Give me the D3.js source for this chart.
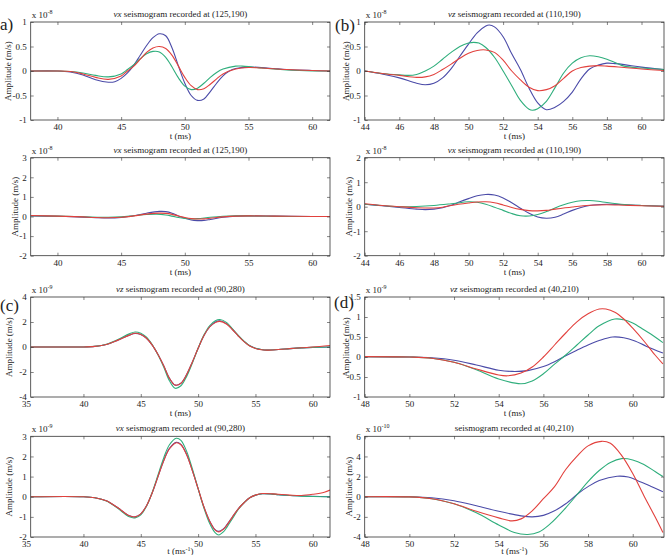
<!DOCTYPE html>
<html>
<head>
<meta charset="utf-8">
<script src="https://cdn.jsdelivr.net/npm/d3@7"></script>
<style>
  body { margin: 0; background: #fff; }
  svg text { font-family: "Liberation Serif", "DejaVu Serif", serif; fill: #222; }
</style>
</head>
<body>
<div id="chart"></div>
<script>
// ---- data: [t (ms), amplitude] ----

// (a) vx at (125,190), x 1e-8
const aBlue = [[37.9,0],[40,0],[41,-0.02],[42,-0.08],[43,-0.18],[44,-0.23],[44.5,-0.22],[45,-0.15],[45.5,-0.04],[46,0.12],[46.5,0.32],[47,0.52],[47.5,0.68],[48,0.76],[48.5,0.72],[49,0.47],[49.5,0.1],[50,-0.25],[50.5,-0.5],[51,-0.6],[51.5,-0.57],[52,-0.42],[52.5,-0.25],[53,-0.1],[53.5,0.0],[54,0.05],[55,0.08],[56,0.07],[57,0.05],[58,0.03],[60,0.01],[61.4,0]];
const aGreen = [[37.9,0],[40,0],[41,-0.01],[42,-0.04],[43,-0.09],[44,-0.12],[45,-0.06],[45.5,0.03],[46,0.13],[46.5,0.25],[47,0.35],[47.5,0.4],[48,0.39],[48.5,0.28],[49,0.08],[49.5,-0.14],[50,-0.31],[50.5,-0.38],[51,-0.35],[51.5,-0.25],[52,-0.13],[52.5,-0.03],[53,0.04],[54,0.1],[54.5,0.1],[55,0.09],[56,0.06],[58,0.02],[60,0],[61.4,0]];
const aRed = [[37.9,0],[40,0],[41,-0.01],[42,-0.06],[43,-0.13],[44,-0.17],[45,-0.1],[45.5,0.0],[46,0.1],[46.5,0.24],[47,0.38],[47.5,0.47],[48,0.5],[48.5,0.46],[49,0.32],[49.5,0.1],[50,-0.13],[50.5,-0.3],[51,-0.38],[51.5,-0.36],[52,-0.27],[52.5,-0.16],[53,-0.06],[54,0.04],[55,0.07],[56,0.06],[58,0.03],[60,0.01],[61.4,0]];

// (b) vz at (110,190), x 1e-8
const bBlue = [[44,0],[45,-0.06],[46,-0.14],[47,-0.25],[47.5,-0.28],[48,-0.25],[48.5,-0.14],[49,0.05],[49.5,0.3],[50,0.55],[50.5,0.78],[51,0.92],[51.2,0.94],[51.5,0.9],[52,0.7],[52.5,0.35],[53,0.03],[53.5,-0.35],[54,-0.65],[54.5,-0.79],[55,-0.74],[55.5,-0.62],[56,-0.43],[56.5,-0.16],[57,0.04],[57.5,0.12],[58,0.16],[58.5,0.15],[59,0.13],[60,0.08],[61.3,0.03]];
const bGreen = [[44,0],[45,-0.05],[46,-0.08],[46.5,-0.09],[47,-0.07],[47.5,0.0],[48,0.1],[48.5,0.24],[49,0.38],[49.5,0.5],[50,0.57],[50.3,0.585],[50.6,0.57],[51,0.48],[51.5,0.28],[52,0.0],[52.5,-0.3],[53,-0.6],[53.5,-0.78],[53.7,-0.8],[54,-0.77],[54.5,-0.62],[55,-0.34],[55.5,-0.04],[56,0.16],[56.5,0.27],[57,0.31],[57.5,0.29],[58,0.24],[58.5,0.17],[59,0.1],[60,0.06],[61.3,0.03]];
const bRed = [[44,0],[45,-0.05],[46,-0.09],[47,-0.13],[47.5,-0.12],[48,-0.07],[48.5,0.03],[49,0.14],[49.5,0.26],[50,0.36],[50.5,0.42],[51,0.43],[51.5,0.38],[52,0.22],[52.5,0.0],[53,-0.18],[53.5,-0.33],[54,-0.4],[54.5,-0.38],[55,-0.3],[55.5,-0.15],[56,0.0],[56.5,0.07],[57,0.1],[57.5,0.11],[58,0.1],[59,0.07],[60,0.04],[61.3,0.01]];

// vx at (125,190), second row, x 1e-8
const a2Blue = [[37.9,0.03],[40,0.01],[42,-0.03],[43,-0.06],[44,-0.08],[45,-0.05],[46,0.04],[47,0.17],[48,0.26],[48.5,0.25],[49,0.17],[49.5,0.03],[50,-0.09],[50.5,-0.18],[51,-0.21],[51.5,-0.2],[52,-0.15],[53,-0.04],[54,0.02],[55,0.03],[57,0.02],[60,0],[61.4,0]];
const a2Green = [[37.9,0.04],[40,0.02],[42,-0.01],[44,-0.04],[45,-0.02],[46,0.04],[47,0.1],[47.8,0.12],[48.5,0.08],[49,0.02],[49.5,-0.05],[50,-0.1],[50.5,-0.12],[51,-0.11],[52,-0.04],[53,0.01],[54,0.03],[55,0.03],[57,0.01],[60,0],[61.4,0]];
const a2Red = [[37.9,0.05],[40,0.02],[42,-0.02],[43,-0.05],[44,-0.06],[45,-0.04],[46,0.03],[47,0.12],[48,0.17],[48.5,0.16],[49,0.11],[49.5,0.03],[50,-0.05],[50.5,-0.11],[51,-0.13],[51.5,-0.12],[52,-0.09],[53,-0.02],[54,0.02],[55,0.03],[57,0.02],[60,0],[61.4,0]];

// vx at (110,190), second row, x 1e-8
const b2Blue = [[44,0.1],[45,0.04],[46,-0.03],[47,-0.1],[47.5,-0.12],[48,-0.1],[48.5,-0.04],[49,0.06],[49.5,0.2],[50,0.33],[50.5,0.45],[51,0.5],[51.5,0.48],[52,0.36],[52.5,0.16],[53,-0.06],[53.5,-0.27],[54,-0.42],[54.5,-0.47],[55,-0.43],[55.5,-0.3],[56,-0.15],[56.5,-0.03],[57,0.05],[58,0.1],[59,0.08],[60,0.05],[61.3,0.02]];
const b2Green = [[44,0.1],[45,0.05],[46,0.0],[47,0.01],[48,0.05],[49,0.12],[50,0.2],[50.5,0.18],[51,0.1],[51.5,-0.02],[52,-0.15],[52.5,-0.28],[53,-0.37],[53.5,-0.38],[54,-0.32],[54.5,-0.2],[55,-0.05],[55.5,0.08],[56,0.18],[56.5,0.24],[57,0.25],[57.5,0.22],[58,0.17],[59,0.09],[60,0.05],[61.3,0.02]];
const b2Red = [[44,0.12],[45,0.05],[46,0.0],[47,-0.04],[48,-0.05],[48.5,-0.02],[49,0.05],[50,0.15],[50.5,0.19],[51,0.2],[51.5,0.16],[52,0.07],[52.5,-0.03],[53,-0.11],[53.5,-0.16],[54,-0.17],[54.5,-0.15],[55,-0.1],[56,-0.01],[57,0.06],[58,0.08],[59,0.06],[60,0.04],[61.3,0.02]];

// (c) vz at (90,280), x 1e-9
const cBlue = [[35.4,0],[38,0],[40,0],[41,0.05],[42,0.2],[43,0.55],[44,0.95],[44.5,1.08],[45,1.0],[45.5,0.7],[46,0.15],[46.5,-0.6],[47,-1.5],[47.5,-2.5],[48,-3.05],[48.5,-2.9],[49,-2.2],[49.5,-1.2],[50,-0.1],[50.5,0.9],[51,1.6],[51.5,2.0],[51.9,2.1],[52.5,1.85],[53,1.4],[53.5,0.9],[54,0.45],[54.5,0.1],[55,-0.1],[55.5,-0.2],[56,-0.25],[57,-0.2],[58,-0.13],[59,-0.07],[60,-0.03],[61.5,0]];
const cGreen = [[35.4,0],[38,0],[40,0],[41,0.05],[42,0.22],[43,0.6],[44,1.05],[44.5,1.2],[45,1.1],[45.5,0.78],[46,0.18],[46.5,-0.62],[47,-1.6],[47.5,-2.7],[48,-3.3],[48.5,-3.1],[49,-2.35],[49.5,-1.28],[50,-0.1],[50.5,0.95],[51,1.7],[51.5,2.1],[51.9,2.2],[52.5,1.95],[53,1.45],[53.5,0.93],[54,0.47],[54.5,0.1],[55,-0.1],[55.5,-0.2],[56,-0.25],[57,-0.2],[58,-0.13],[59,-0.07],[60,-0.03],[61.5,0]];
const cRed = [[35.4,0],[38,0],[40,0],[41,0.05],[42,0.2],[43,0.55],[44,0.95],[44.5,1.1],[45,1.0],[45.5,0.7],[46,0.15],[46.5,-0.6],[47,-1.5],[47.5,-2.5],[48,-3.05],[48.5,-2.9],[49,-2.2],[49.5,-1.2],[50,-0.1],[50.5,0.9],[51,1.6],[51.5,1.95],[51.9,2.05],[52.5,1.82],[53,1.38],[53.5,0.88],[54,0.43],[54.5,0.08],[55,-0.12],[55.5,-0.22],[56,-0.25],[57,-0.2],[58,-0.13],[59,-0.06],[60,0],[61.5,0.12]];

// (d) vz at (40,210), x 1e-9
const dBlue = [[48,0.01],[50,0],[51,-0.02],[52,-0.08],[53,-0.2],[54,-0.33],[54.6,-0.36],[55.3,-0.34],[56,-0.24],[56.5,-0.12],[57,0.03],[57.5,0.17],[58,0.3],[58.5,0.41],[59.1,0.5],[59.6,0.48],[60.1,0.4],[60.6,0.27],[61.35,0.1]];
const dGreen = [[48,0.01],[50,0],[51,-0.03],[52,-0.13],[53,-0.32],[54,-0.55],[55,-0.67],[55.5,-0.6],[56,-0.42],[56.5,-0.18],[57,0.05],[57.5,0.3],[58,0.55],[58.5,0.78],[59.2,0.95],[59.6,0.93],[60,0.85],[60.5,0.68],[61,0.5],[61.35,0.36]];
const dRed = [[48,0.01],[50,0],[51,-0.03],[52,-0.13],[53,-0.3],[54,-0.45],[54.4,-0.47],[55,-0.4],[55.5,-0.25],[56,0.0],[56.5,0.3],[57,0.6],[57.5,0.88],[58,1.08],[58.5,1.2],[58.8,1.2],[59.2,1.12],[59.6,0.95],[60,0.72],[60.5,0.4],[61,0.05],[61.35,-0.17]];

// vx at (90,280), bottom row, x 1e-9
const eBlue = [[35.4,0],[40,0],[41,-0.05],[42,-0.2],[43,-0.55],[44,-0.95],[44.5,-1.0],[45,-0.85],[45.5,-0.45],[46,0.2],[46.5,1.0],[47,1.8],[47.5,2.4],[48.1,2.7],[48.5,2.6],[49,2.1],[49.5,1.3],[50,0.4],[50.5,-0.5],[51,-1.2],[51.5,-1.65],[51.8,-1.72],[52.2,-1.6],[52.5,-1.4],[53,-1.0],[53.5,-0.6],[54,-0.3],[54.5,-0.05],[55,0.08],[55.6,0.15],[56.5,0.13],[57,0.1],[58,0.06],[59,0.04],[60,0.02],[61.5,0]];
const eGreen = [[35.4,0],[40,0],[41,-0.05],[42,-0.21],[43,-0.58],[44,-1.0],[44.5,-1.05],[45,-0.9],[45.5,-0.47],[46,0.22],[46.5,1.08],[47,1.93],[47.5,2.58],[48.1,2.9],[48.5,2.8],[49,2.25],[49.5,1.38],[50,0.4],[50.5,-0.55],[51,-1.32],[51.5,-1.8],[51.8,-1.9],[52.2,-1.75],[52.5,-1.52],[53,-1.08],[53.5,-0.63],[54,-0.3],[54.5,-0.05],[55,0.08],[55.6,0.15],[56.5,0.13],[57,0.1],[58,0.06],[59,0.03],[60,0.01],[61.5,0]];
const eRed = [[35.4,0],[40,0],[41,-0.05],[42,-0.2],[43,-0.55],[44,-0.95],[44.5,-1.0],[45,-0.85],[45.5,-0.45],[46,0.2],[46.5,1.0],[47,1.78],[47.5,2.38],[48.1,2.68],[48.5,2.58],[49,2.08],[49.5,1.28],[50,0.4],[50.5,-0.5],[51,-1.2],[51.5,-1.66],[51.8,-1.75],[52.2,-1.62],[52.5,-1.42],[53,-1.0],[53.5,-0.6],[54,-0.3],[54.5,-0.05],[55,0.08],[55.6,0.16],[56.5,0.14],[57,0.12],[58,0.08],[59,0.06],[60,0.12],[61,0.22],[61.5,0.33]];

// bottom-right at (40,210), x 1e-10
const fBlue = [[48,0],[50,0],[51,-0.1],[52,-0.4],[53,-0.9],[54,-1.45],[55,-1.9],[55.5,-2.0],[56,-1.85],[56.5,-1.4],[57,-0.7],[57.6,0.4],[58,1.0],[58.5,1.6],[59.3,2.03],[59.8,1.95],[60.2,1.62],[60.8,1.05],[61.35,0.5]];
const fGreen = [[48,0],[50,-0.02],[51,-0.2],[52,-0.7],[53,-1.6],[54,-2.8],[54.7,-3.55],[55.3,-3.75],[55.8,-3.5],[56.3,-2.7],[57,-1.1],[57.6,0.45],[58,1.5],[58.5,2.6],[59,3.4],[59.5,3.78],[60,3.65],[60.5,3.2],[61,2.5],[61.35,2.0]];
const fRed = [[48,0],[50,-0.02],[51,-0.2],[52,-0.7],[53,-1.45],[54,-2.1],[54.6,-2.4],[55,-2.2],[55.5,-1.4],[56,-0.2],[56.5,1.0],[57,2.7],[57.5,4.0],[58,5.05],[58.6,5.5],[59,5.3],[59.5,4.1],[60,2.3],[60.5,0.1],[61,-2.0],[61.35,-3.55]];

// axis ticks
const xTicksA = [40, 45, 50, 55, 60];
const xTicksB = [44, 46, 48, 50, 52, 54, 56, 58, 60];
const xTicksC = [35, 40, 45, 50, 55, 60];
const xTicksD = [48, 50, 52, 54, 56, 58, 60];

const colors = ['#4b4ba8', '#2fae7c', '#e2413d'];

const panels = [
  { col: 0, row: 0, comp: 'vx', title: ' seismogram recorded at (125,190)', exp: '-8',
    xDom: [37.9, 61.4], xTicks: xTicksA, yDom: [-1, 1], yTicks: [-1, -0.5, 0, 0.5, 1],
    series: [aBlue, aGreen, aRed], ylabX: 8 },
  { col: 1, row: 0, comp: 'vz', title: ' seismogram recorded at (110,190)', exp: '-8',
    xDom: [44, 61.3], xTicks: xTicksB, yDom: [-1, 1], yTicks: [-1, -0.5, 0, 0.5, 1],
    series: [bBlue, bGreen, bRed], ylabX: 346 },
  { col: 0, row: 1, comp: 'vx', title: ' seismogram recorded at (125,190)', exp: '-8',
    xDom: [37.9, 61.4], xTicks: xTicksA, yDom: [-2, 3], yTicks: [-2, -1, 0, 1, 2, 3],
    series: [a2Blue, a2Green, a2Red], ylabX: 15 },
  { col: 1, row: 1, comp: 'vx', title: ' seismogram recorded at (110,190)', exp: '-8',
    xDom: [44, 61.3], xTicks: xTicksB, yDom: [-2, 2], yTicks: [-2, -1, 0, 1, 2],
    series: [b2Blue, b2Green, b2Red], ylabX: 349 },
  { col: 0, row: 2, comp: 'vz', title: ' seismogram recorded at (90,280)', exp: '-9',
    xDom: [35.4, 61.5], xTicks: xTicksC, yDom: [-4, 4], yTicks: [-4, -2, 0, 2, 4],
    series: [cBlue, cGreen, cRed], ylabX: 9 },
  { col: 1, row: 2, comp: 'vz', title: ' seismogram recorded at (40,210)', exp: '-9',
    xDom: [48, 61.4], xTicks: xTicksD, yDom: [-1, 1.5], yTicks: [-1, -0.5, 0, 0.5, 1, 1.5],
    series: [dBlue, dGreen, dRed], ylabX: 346 },
  { col: 0, row: 3, comp: 'vx', title: ' seismogram recorded at (90,280)', exp: '-9',
    xDom: [35.4, 61.5], xTicks: xTicksC, yDom: [-2, 3], yTicks: [-2, -1, 0, 1, 2, 3],
    series: [eBlue, eGreen, eRed], ylabX: 9, inv: true },
  { col: 1, row: 3, comp: '', title: 'seismogram recorded at (40,210)', exp: '-10',
    xDom: [48, 61.4], xTicks: xTicksD, yDom: [-4, 6], yTicks: [-4, -2, 0, 2, 4, 6],
    series: [fBlue, fGreen, fRed], ylabX: 349, inv: true }
];

const letters = [
  { text: 'a)', x: 0, y: 30 },
  { text: '(b)', x: 335, y: 31 },
  { text: '(c)', x: 0, y: 311 },
  { text: '(d)', x: 334, y: 308 }
];

// ---- layout ----
const W = 668, H = 555;
const colX = [[30.7, 330], [364.7, 664]];
const rowY = [[22, 120], [157.7, 255.7], [297, 397], [436.3, 537]];

const svg = d3.select('#chart').append('svg')
  .attr('width', W).attr('height', H)
  .attr('viewBox', `0 0 ${W} ${H}`);

const fmt = d => String(d);
const tk = 3;

panels.forEach((p, i) => {
  const [x0, x1] = colX[p.col];
  const [y0, y1] = rowY[p.row];
  const w = x1 - x0, h = y1 - y0;

  const x = d3.scaleLinear().domain(p.xDom).range([0, w]);
  const y = d3.scaleLinear().domain(p.yDom).range([h, 0]);

  const g = svg.append('g').attr('transform', `translate(${x0},${y0})`);

  g.append('clipPath').attr('id', `clip${i}`)
    .append('rect').attr('width', w).attr('height', h);

  // 曲线
  const line = d3.line()
    .x(d => x(d[0]))
    .y(d => y(d[1]))
    .curve(d3.curveCatmullRom.alpha(0.5));

  const lines = g.append('g').attr('clip-path', `url(#clip${i})`);
  p.series.forEach((s, k) => {
    lines.append('path')
      .datum(s)
      .attr('fill', 'none')
      .attr('stroke', colors[k])
      .attr('stroke-width', 1.1)
      .attr('d', line);
  });

  // 坐标轴 (刻度朝内, 四边)
  const xb = g.append('g').attr('transform', `translate(0,${h})`)
    .call(d3.axisBottom(x).tickValues(p.xTicks).tickSizeInner(-tk).tickSizeOuter(0).tickPadding(4).tickFormat(fmt));
  const xt = g.append('g')
    .call(d3.axisTop(x).tickValues(p.xTicks).tickSizeInner(-tk).tickSizeOuter(0).tickFormat(''));
  const yl = g.append('g')
    .call(d3.axisLeft(y).tickValues(p.yTicks).tickSizeInner(-tk).tickSizeOuter(0).tickPadding(4).tickFormat(fmt));
  const yr = g.append('g').attr('transform', `translate(${w},0)`)
    .call(d3.axisRight(y).tickValues(p.yTicks).tickSizeInner(-tk).tickSizeOuter(0).tickFormat(''));

  [xb, xt, yl, yr].forEach(a => {
    a.select('.domain').remove();
    a.selectAll('.tick line').attr('stroke', '#333').attr('stroke-width', 0.6);
    a.selectAll('.tick text').attr('font-size', 9).attr('fill', '#222');
  });
  // tick marks outside the box are not drawn
  [xb, xt].forEach(a => a.selectAll('.tick').filter(d => x(d) < 0 || x(d) > w).select('line').remove());

  g.append('rect')
    .attr('width', w).attr('height', h)
    .attr('fill', 'none').attr('stroke', '#333').attr('stroke-width', 0.8);

  // 标题
  const t = g.append('text')
    .attr('x', w / 2).attr('y', -5)
    .attr('text-anchor', 'middle').attr('font-size', 9);
  if (p.comp) t.append('tspan').attr('font-style', 'italic').text(p.comp);
  t.append('tspan').text(p.title);

  // 指数
  const e = g.append('text').attr('x', 1).attr('y', -4).attr('font-size', 9);
  e.append('tspan').text('x 10');
  e.append('tspan').attr('dy', -4).attr('font-size', 6).text(p.exp);

  // x label
  const xl = g.append('text')
    .attr('x', w / 2).attr('y', h + (p.inv ? 17 : 19))
    .attr('text-anchor', 'middle').attr('font-size', 9);
  xl.append('tspan').text(p.inv ? 't (ms' : 't (ms)');
  if (p.inv) {
    xl.append('tspan').attr('dy', -3).attr('font-size', 6).text('-1');
    xl.append('tspan').attr('dy', 3).text(')');
  }

  // y label
  svg.append('text')
    .attr('transform', `translate(${p.ylabX},${y0 + h / 2}) rotate(-90)`)
    .attr('dy', '0.35em')
    .attr('text-anchor', 'middle').attr('font-size', 9)
    .text('Amplitude (m/s)');
});

// panel letters
svg.selectAll('text.letter')
  .data(letters)
  .join('text')
  .attr('class', 'letter')
  .attr('x', d => d.x).attr('y', d => d.y)
  .attr('font-size', 17)
  .text(d => d.text);
</script>
</body>
</html>
